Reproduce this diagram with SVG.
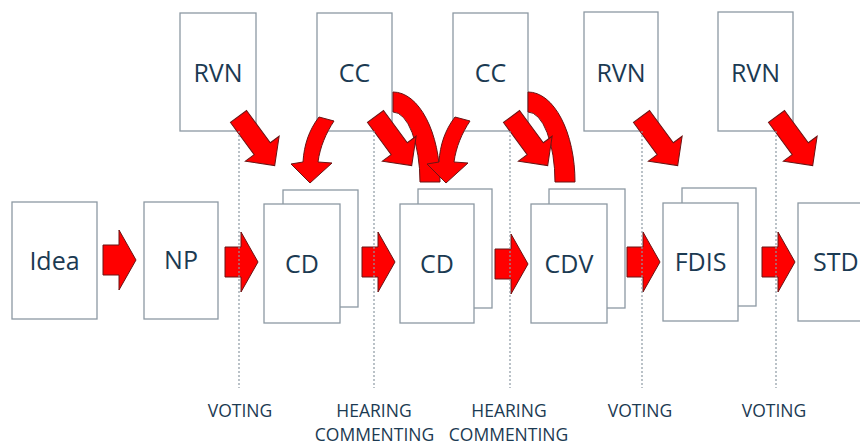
<svg xmlns="http://www.w3.org/2000/svg" width="860" height="445" viewBox="0 0 860 445">
<defs>
<style>
.box{fill:#fff;stroke:#8d99a3;stroke-width:1.3}
.lbl{font-family:"Open Sans","DejaVu Sans",sans-serif;font-size:25px;fill:#1b3a52;text-anchor:middle}
.ph{font-family:"Open Sans","DejaVu Sans",sans-serif;font-size:17.5px;fill:#1b3a52;text-anchor:middle}
.arr{fill:#ff0000;stroke:#6a1414;stroke-width:1;stroke-linejoin:miter}
.dash{stroke:#8d99a3;stroke-width:1.2;stroke-dasharray:2 2;fill:none}
</style>
<path id="ha" d="M0,-15 H16 V-30 L33,0 L16,30 V15 H0 Z"/>
<path id="da" d="M0,-10 H40 V-21 L61,0 L40,21 V10 H0 Z"/>
<path id="ca" d="M319,117 L334,121 C326,133 320,147 318,162 L332,163 L310,183 L291,164 L303,162 C304,145 309,130 319,117 Z"/>
</defs>
<rect width="860" height="445" fill="#fff"/>

<g id="rvn1"><rect class="box" x="180" y="13" width="76" height="118"/><text class="lbl" x="218" y="82">RVN</text></g>
<g id="cc1"><rect class="box" x="317" y="13" width="75" height="118"/><text class="lbl" x="354.5" y="82">CC</text></g>
<g id="cc2"><rect class="box" x="453" y="13" width="75" height="118"/><text class="lbl" x="490.5" y="82">CC</text></g>
<g id="rvn2"><rect class="box" x="584" y="12" width="74" height="119"/><text class="lbl" x="621" y="82">RVN</text></g>
<g id="rvn3"><rect class="box" x="718" y="12" width="75" height="119"/><text class="lbl" x="755.5" y="82">RVN</text></g>

<g id="idea"><rect class="box" x="12" y="202" width="85" height="117"/><text class="lbl" x="54.5" y="270">Idea</text></g>
<g id="np"><rect class="box" x="144" y="202" width="74" height="117"/><text class="lbl" x="181" y="269">NP</text></g>
<g id="cd1"><rect class="box" x="283" y="190" width="75" height="117"/><rect class="box" x="264" y="204" width="76" height="119"/><text class="lbl" x="302" y="273">CD</text></g>
<g id="cd2"><rect class="box" x="418" y="189" width="74" height="119"/><rect class="box" x="400" y="204" width="74" height="119"/><text class="lbl" x="437" y="273">CD</text></g>
<g id="cdv"><rect class="box" x="549" y="189" width="76" height="119"/><rect class="box" x="531" y="204" width="76" height="119"/><text class="lbl" x="569" y="273">CDV</text></g>
<g id="fdis"><rect class="box" x="682" y="188" width="74" height="118"/><rect class="box" x="663" y="203" width="75" height="118"/><text class="lbl" x="700.5" y="271">FDIS</text></g>
<g id="std"><rect class="box" x="798" y="203" width="100" height="118"/><text class="lbl" x="813" y="271" style="text-anchor:start">STD</text></g>

<g id="connectors">
<path class="arr" d="M393,92 A47,90 0 0 1 440,182 L420,182 A27,70 0 0 0 393,112 Z"/>
<path class="arr" d="M528,92 A47,90 0 0 1 575,182 L555,182 A27,70 0 0 0 528,112 Z"/>
<use href="#ca" class="arr"/>
<use href="#ca" class="arr" transform="translate(136,0)"/>
<use href="#da" class="arr" transform="translate(238.5,116.5) rotate(53.6)"/>
<use href="#da" class="arr" transform="translate(375.5,116.5) rotate(53.6)"/>
<use href="#da" class="arr" transform="translate(511.5,116.5) rotate(53.6)"/>
<use href="#da" class="arr" transform="translate(641.5,116.5) rotate(53.6)"/>
<use href="#da" class="arr" transform="translate(776.5,116.5) rotate(53.6)"/>
<use href="#ha" class="arr" transform="translate(103,260)"/>
<use href="#ha" class="arr" transform="translate(225,262)"/>
<use href="#ha" class="arr" transform="translate(362,262)"/>
<use href="#ha" class="arr" transform="translate(495,264)"/>
<use href="#ha" class="arr" transform="translate(627,262)"/>
<use href="#ha" class="arr" transform="translate(762,262)"/>
</g>

<g id="phases">
<line class="dash" x1="239" y1="131" x2="239" y2="388"/>
<line class="dash" x1="374" y1="131" x2="374" y2="388"/>
<line class="dash" x1="510" y1="131" x2="510" y2="388"/>
<line class="dash" x1="642" y1="131" x2="642" y2="388"/>
<line class="dash" x1="776" y1="131" x2="776" y2="388"/>
<text class="ph" x="240" y="417">VOTING</text>
<text class="ph" x="374" y="417">HEARING</text>
<text class="ph" x="374.5" y="441">COMMENTING</text>
<text class="ph" x="509" y="417">HEARING</text>
<text class="ph" x="508.5" y="441">COMMENTING</text>
<text class="ph" x="640" y="417">VOTING</text>
<text class="ph" x="774" y="417">VOTING</text>
</g>
</svg>
